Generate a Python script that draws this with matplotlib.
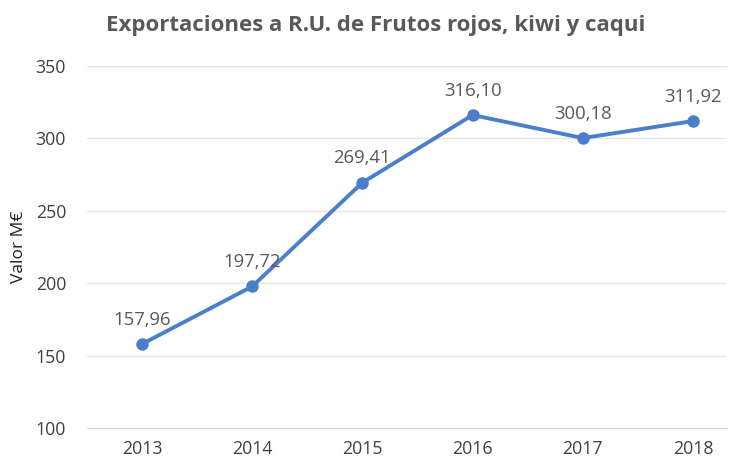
import matplotlib.pyplot as plt

plt.rcParams['font.family'] = ['Open Sans', 'DejaVu Sans']

years = ['2013', '2014', '2015', '2016', '2017', '2018']
values = [157.96, 197.72, 269.41, 316.10, 300.18, 311.92]
labels = ['157,96', '197,72', '269,41', '316,10', '300,18', '311,92']

fig = plt.figure(figsize=(7.36, 4.63), dpi=100)
ax = fig.add_axes([0.118, 0.0756, 0.870, 0.782])

x = list(range(len(years)))
ax.plot(x, values, color='#4B7FCC', linewidth=2.8, marker='o', markersize=8,
        solid_capstyle='round', zorder=3)

for xi, v, lab in zip(x, values, labels):
    ax.annotate(lab, (xi, v), xytext=(0, 11), textcoords='offset points',
                ha='center', va='bottom', fontsize=13.3, color='#595959')

ax.set_ylim(100, 350)
ax.set_yticks([100, 150, 200, 250, 300, 350])
ax.set_xlim(-0.5, 5.31)
ax.set_xticks(x)
ax.set_xticklabels(years)
ax.tick_params(axis='both', length=0, labelsize=12.8, labelcolor='#404040')
ax.tick_params(axis='x', pad=9)
ax.tick_params(axis='y', pad=15)
ax.grid(axis='y', color='#E6E6E6', linewidth=1)
ax.set_axisbelow(True)
for side in ['top', 'right', 'left']:
    ax.spines[side].set_visible(False)
ax.spines['bottom'].set_color('#D9D9D9')

ax.set_ylabel('Valor M€', fontsize=12.5, color='#202020', labelpad=6)
fig.text(0.51, 0.945, 'Exportaciones a R.U. de Frutos rojos, kiwi y caqui',
         ha='center', va='center', fontsize=16, fontweight='bold', color='#595959')

fig.savefig('out.png', dpi=100)
